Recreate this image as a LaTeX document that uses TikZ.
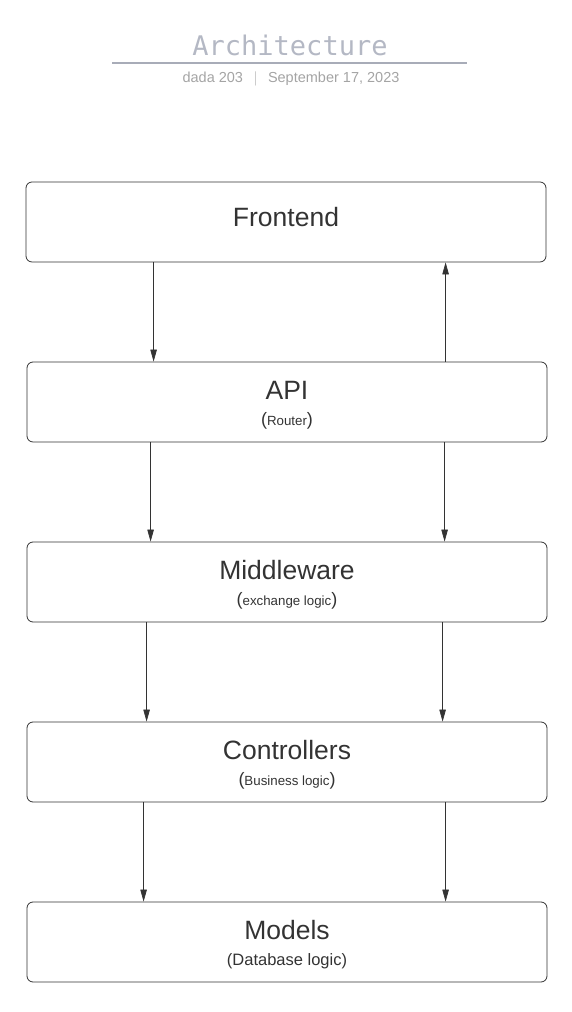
\documentclass[tikz,border=0pt]{standalone}
\usepackage{fontspec}
\setmainfont{Liberation Sans}
\newfontfamily\titlefont{DejaVu Sans Mono}
\usetikzlibrary{arrows.meta}
\definecolor{inkgray}{HTML}{333333}
\definecolor{titlegray}{HTML}{B4B8C4}
\definecolor{rulegray}{HTML}{A8ACB8}
\definecolor{subgray}{HTML}{A4A4A4}
\newcommand{\smalltxt}[1]{{\fontsize{18}{20}\selectfont(}{\fontsize{13.3}{16}\selectfont #1}{\fontsize{18}{20}\selectfont)}}
\tikzset{
  layerbox/.style={draw=inkgray, line width=0.8pt, rounded corners=6pt,
    minimum width=520pt, minimum height=80pt, align=center, text=inkgray,
    inner sep=0pt, font=\fontsize{26.5}{26}\selectfont},
  twoline/.style={text height=51pt},
  flow/.style={draw=inkgray, line width=0.7pt,
    -{Triangle[width=6.5pt,length=12pt]}}
}
\begin{document}
\begin{tikzpicture}[x=1pt,y=1pt]
      \useasboundingbox (0,0) rectangle (572,1012);
      %%%%%%%%%%%%%%%%%%%%%%%%%%%%%%%%%%%%%%%%%%%%%%%
      \node[text=titlegray] (title) at (290,967) {\titlefont\fontsize{27}{30}\selectfont Architecture};
      \draw[rulegray, line width=1.2pt] (112,949) -- (467,949);
      \node[text=subgray] (subtitle) at (291,933) {\fontsize{14.5}{16}\selectfont dada 203 \,\ $|$ \,\ September 17, 2023};
      %%%%%%%%%%%%%%%%%%%%%%%%%%%%%%%%%%%%%%%%%%%%%%%
      \node[layerbox, text depth=10pt] at (286,790) (frontend) {Frontend};
      \node[layerbox, twoline] at (287,610) (api) {API\\\smalltxt{Router}};
      \node[layerbox, twoline] at (287,430) (middleware) {Middleware\\\smalltxt{exchange logic}};
      \node[layerbox, twoline] at (287,250) (controllers) {Controllers\\\smalltxt{Business logic}};
      \node[layerbox, twoline] at (287,70) (models) {Models\\{\fontsize{16.5}{19}\selectfont(Database logic)}};
      %%%%%%%%%%%%%%%%%%%%%%%%%%%%%%%%%%%%%%%%%%%%%%%
      \draw[flow] ([xshift=128pt]frontend.south west) -- ([xshift=127pt]api.north west);
      \draw[flow] ([xshift=419pt]api.north west) -- ([xshift=420pt]frontend.south west);
      \draw[flow] ([xshift=124pt]api.south west) -- ([xshift=124pt]middleware.north west);
      \draw[flow] ([xshift=418pt]api.south west) -- ([xshift=418pt]middleware.north west);
      \draw[flow] ([xshift=120pt]middleware.south west) -- ([xshift=120pt]controllers.north west);
      \draw[flow] ([xshift=416pt]middleware.south west) -- ([xshift=416pt]controllers.north west);
      \draw[flow] ([xshift=117pt]controllers.south west) -- ([xshift=117pt]models.north west);
      \draw[flow] ([xshift=419pt]controllers.south west) -- ([xshift=419pt]models.north west);
      %%%%%%%%%%%%%%%%%%%%%%%%%%%%%%%%%%%%%%%%%%%%%%%
\end{tikzpicture}
\end{document}
